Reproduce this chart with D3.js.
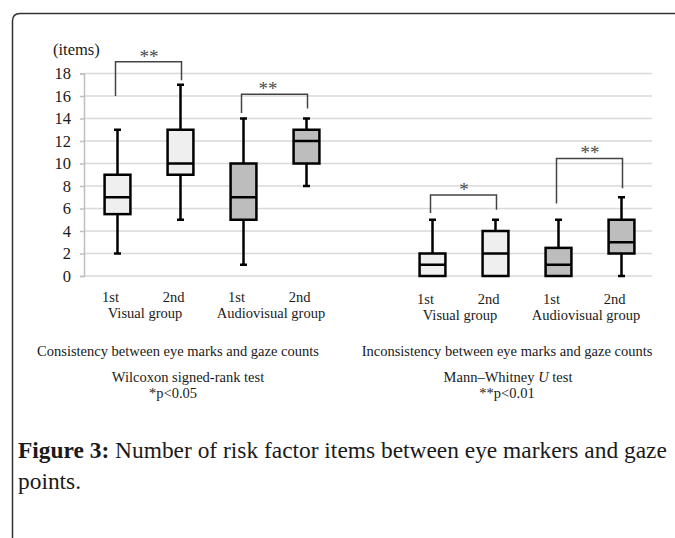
<!DOCTYPE html>
<html>
<head>
<meta charset="utf-8">
<script src="https://cdn.jsdelivr.net/npm/d3@7"></script>
<style>
  html, body { margin: 0; padding: 0; background: #fff; }
  svg { display: block; }
  text { font-family: "Liberation Serif", "Times New Roman", serif; fill: #1a1a1a; }
</style>
</head>
<body>
<svg id="chart" width="675" height="538"></svg>
<script>
// ---------------- data ----------------
const panels = ["Consistency between eye marks and gaze counts", "Inconsistency between eye marks and gaze counts"];
const groups = ["Visual group", "Audiovisual group"];
const sessions = ["1st", "2nd"];
// slot keys along the x axis (one empty slot between the panels)
const slots = ["C-V-1st", "C-V-2nd", "C-A-1st", "C-A-2nd", "gap", "I-V-1st", "I-V-2nd", "I-A-1st", "I-A-2nd"];
const boxKeys = ["C-V-1st", "C-V-2nd", "C-A-1st", "C-A-2nd", "I-V-1st", "I-V-2nd", "I-A-1st", "I-A-2nd"];
const boxGroup = ["Visual group", "Visual group", "Audiovisual group", "Audiovisual group",
                  "Visual group", "Visual group", "Audiovisual group", "Audiovisual group"];
const whiskerLow  = [2, 5, 1, 8, 0, 0, 0, 0];
const quartile1   = [5.5, 9, 5, 10, 0, 0, 0, 2];
const medianVal   = [7, 10, 7, 12, 1, 2, 1, 3];
const quartile3   = [9, 13, 10, 13, 2, 4, 2.5, 5];
const whiskerHigh = [13, 17, 14, 14, 5, 5, 5, 7];
const yTicks = [0, 2, 4, 6, 8, 10, 12, 14, 16, 18];
// significance brackets: from/to box keys, top of bracket, leg ends (in items), label
const bracketFrom  = ["C-V-1st", "C-A-1st", "I-V-1st", "I-A-1st"];
const bracketTo    = ["C-V-2nd", "C-A-2nd", "I-V-2nd", "I-A-2nd"];
const bracketTop   = [19.05, 16.15, 7.2, 10.45];
const bracketLeftEnd  = [16, 14.5, 5.6, 6.45];
const bracketRightEnd = [17.4, 14.9, 5.9, 7.8];
const bracketLabel = ["**", "**", "*", "**"];
const testNames = ["Wilcoxon signed-rank test", "Mann\u2013Whitney U test"];
const pNotes = ["*p<0.05", "**p<0.01"];

// ---------------- layout ----------------
const svg = d3.select("#chart");
const W = 675, H = 538;
svg.append("rect").attr("width", W).attr("height", H).attr("fill", "#fff");

// frame
svg.append("path")
  .attr("d", "M12.5,540 V21 Q12.5,13.5 20,13.5 H680")
  .attr("fill", "none").attr("stroke", "#333").attr("stroke-width", 1.5);

const plotLeft = 86, plotRight = 653, plotTop = 73.5, plotBottom = 276;
const x = d3.scaleBand().domain(slots).range([plotLeft, plotRight]).padding(0);
const y = d3.scaleLinear().domain([0, 18]).range([plotBottom, plotTop]);
const cx = k => x(k) + x.bandwidth() / 2;
const boxW = x.bandwidth() * 0.41;
const fillFor = d3.scaleOrdinal().domain(groups).range(["#efefef", "#bdbdbd"]);

// gridlines
svg.append("g").selectAll("line").data(yTicks).join("line")
  .attr("x1", plotLeft - 2).attr("x2", plotRight - 1)
  .attr("y1", d => y(d)).attr("y2", d => y(d))
  .attr("stroke", "#d9d9d9").attr("stroke-width", 1.5);

// y axis
const yAxis = d3.axisLeft(y).tickValues(yTicks).tickSize(4).tickPadding(9);
const ya = svg.append("g").attr("transform", `translate(${plotLeft - 2},0)`).call(yAxis);
ya.attr("font-family", null).attr("font-size", null);
ya.select(".domain").attr("stroke", "#bfbfbf").attr("stroke-width", 1.5);
ya.selectAll(".tick line").attr("stroke", "#bfbfbf").attr("stroke-width", 1.5);
ya.selectAll(".tick text")
  .style("font-family", '"Liberation Serif", serif').style("font-size", "16.5px").attr("fill", "#1a1a1a");

svg.append("text").attr("x", 53).attr("y", 55).style("font-size", "16.5px").text("(items)");

// boxes
const boxes = svg.append("g").selectAll("g").data(boxKeys).join("g");
boxes.append("line") // whisker
  .attr("x1", (k) => cx(k)).attr("x2", (k) => cx(k))
  .attr("y1", (k, i) => y(whiskerLow[i])).attr("y2", (k, i) => y(whiskerHigh[i]))
  .attr("stroke", "#000").attr("stroke-width", 2.5);
boxes.append("line") // top cap
  .attr("x1", k => cx(k) - 3.5).attr("x2", k => cx(k) + 3.5)
  .attr("y1", (k, i) => y(whiskerHigh[i])).attr("y2", (k, i) => y(whiskerHigh[i]))
  .attr("stroke", "#000").attr("stroke-width", 2.5);
boxes.filter((k, i) => whiskerLow[i] < quartile1[i]).append("line") // bottom cap
  .attr("x1", k => cx(k) - 3.5).attr("x2", k => cx(k) + 3.5)
  .attr("y1", k => y(whiskerLow[boxKeys.indexOf(k)])).attr("y2", k => y(whiskerLow[boxKeys.indexOf(k)]))
  .attr("stroke", "#000").attr("stroke-width", 2.5);
boxes.append("rect")
  .attr("x", k => cx(k) - boxW / 2).attr("width", boxW)
  .attr("y", (k, i) => y(quartile3[i])).attr("height", (k, i) => y(quartile1[i]) - y(quartile3[i]))
  .attr("fill", (k, i) => fillFor(boxGroup[i])).attr("stroke", "#000").attr("stroke-width", 2.5);
boxes.append("line") // median
  .attr("x1", k => cx(k) - boxW / 2).attr("x2", k => cx(k) + boxW / 2)
  .attr("y1", (k, i) => y(medianVal[i])).attr("y2", (k, i) => y(medianVal[i]))
  .attr("stroke", "#000").attr("stroke-width", 2.5);

// significance brackets
const br = svg.append("g").selectAll("g").data(bracketFrom).join("g");
br.append("path")
  .attr("d", (f, i) => {
    const x1 = cx(f) - 2, x2 = cx(bracketTo[i]) + 1;
    return `M${x1},${y(bracketLeftEnd[i])} V${y(bracketTop[i])} H${x2} V${y(bracketRightEnd[i])}`;
  })
  .attr("fill", "none").attr("stroke", "#444").attr("stroke-width", 1.5);
br.append("text")
  .attr("x", (f, i) => (cx(f) + cx(bracketTo[i])) / 2 - (i === 1 ? 7 : 0))
  .attr("y", (f, i) => y(bracketTop[i]) + 1)
  .attr("text-anchor", "middle").style("font-size", "19px").style("fill", "#4a4a4a")
  .text((f, i) => bracketLabel[i]);

// category labels
const catG = svg.append("g").style("font-size", "14.5px").attr("text-anchor", "middle");
catG.selectAll("text.sess").data(boxKeys).join("text").attr("class", "sess")
  .attr("x", k => cx(k) - 7).attr("y", (k, i) => i < 4 ? 302 : 304)
  .text(k => sessions[k.endsWith("1st") ? 0 : 1]);
const groupPairs = [["C-V-1st", "C-V-2nd"], ["C-A-1st", "C-A-2nd"], ["I-V-1st", "I-V-2nd"], ["I-A-1st", "I-A-2nd"]];
catG.selectAll("text.grp").data(groupPairs).join("text").attr("class", "grp")
  .attr("x", p => (cx(p[0]) + cx(p[1])) / 2 - 4).attr("y", (p, i) => i < 2 ? 318 : 320)
  .text((p, i) => groups[i % 2]);

// panel titles and notes
const panelCenters = [178, 507];
const noteG = svg.append("g").style("font-size", "14.5px").attr("text-anchor", "middle");
noteG.selectAll("text.pt").data(panels).join("text").attr("class", "pt")
  .attr("x", (d, i) => panelCenters[i]).attr("y", 356).text(d => d);
const tn = noteG.selectAll("text.tn").data(testNames).join("text").attr("class", "tn")
  .attr("x", (d, i) => [188, 508][i]).attr("y", 382);
tn.each(function(d) {
  const t = d3.select(this);
  if (d.includes(" U ")) {
    const parts = d.split(" U ");
    t.append("tspan").text(parts[0] + " ");
    t.append("tspan").style("font-style", "italic").text("U");
    t.append("tspan").text(" " + parts[1]);
  } else t.text(d);
});
noteG.selectAll("text.pn").data(pNotes).join("text").attr("class", "pn")
  .attr("x", (d, i) => [173, 507][i]).attr("y", 398).text(d => d);

// caption
const cap = svg.append("text").attr("x", 18).attr("y", 458).style("font-size", "20px");
cap.append("tspan").style("font-weight", "bold").text("Figure 3:");
cap.append("tspan").text(" Number of risk factor items between eye markers and gaze");
// fit caption width to the reference width
const len = cap.node().getComputedTextLength();
cap.style("font-size", (20 * 649 / len).toFixed(2) + "px");
svg.append("text").attr("x", 18).attr("y", 489).style("font-size", (20 * 649 / len).toFixed(2) + "px").text("points.");
</script>
</body>
</html>
